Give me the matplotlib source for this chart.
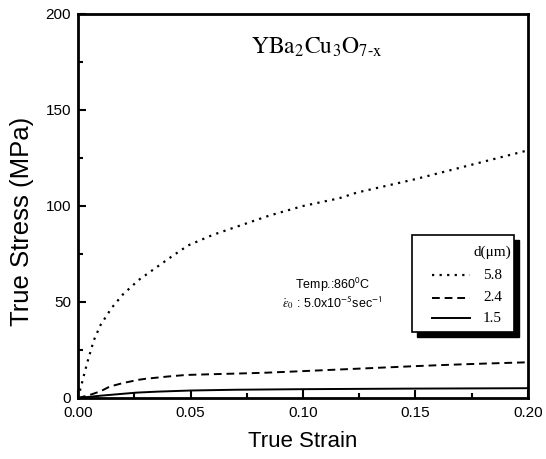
import numpy as np
import matplotlib
matplotlib.use("Agg")
import matplotlib.pyplot as plt
from matplotlib.patches import Rectangle
from matplotlib.ticker import MultipleLocator

# -----------------------------
# Datos
# -----------------------------
grain_sizes = ["5.8", "2.4", "1.5"]

strain_58 = [0.0, 0.004, 0.007, 0.010, 0.015, 0.020, 0.027, 0.036, 0.042, 0.049, 0.060,
             0.070, 0.085, 0.100, 0.116, 0.124, 0.150, 0.175, 0.200]
stress_58 = [0.0, 18.0, 30.0, 38.0, 47.0, 54.0, 61.5, 69.0, 74.0, 79.5, 85.0,
             89.0, 95.0, 100.0, 104.0, 107.0, 114.0, 121.5, 129.0]

strain_24 = [0.0, 0.005, 0.010, 0.014, 0.020, 0.027, 0.030, 0.040, 0.048, 0.060,
             0.076, 0.084, 0.100, 0.125, 0.150, 0.165, 0.180, 0.200]
stress_24 = [0.0, 1.5, 3.5, 5.9, 7.8, 9.5, 10.0, 11.2, 12.0, 12.4,
             12.9, 13.2, 14.0, 15.3, 16.6, 17.3, 17.9, 18.6]

strain_15 = [0.0, 0.005, 0.010, 0.018, 0.026, 0.035, 0.050, 0.070, 0.100, 0.150, 0.200]
stress_15 = [0.0, 0.6, 1.2, 2.0, 2.8, 3.3, 3.9, 4.3, 4.6, 4.9, 5.1]

series = [
    (strain_58, stress_58, (0, (1, 2.4)), 1.6),
    (strain_24, stress_24, (0, (4, 2.5)), 1.4),
    (strain_15, stress_15, "-", 1.4),
]

# -----------------------------
# Figura
# -----------------------------
plt.rcParams['font.family'] = ['Liberation Sans', 'DejaVu Sans']
plt.rcParams['mathtext.fontset'] = 'stix'

fig = plt.figure(figsize=(5.46, 4.59), dpi=100)
ax = fig.add_axes([0.1429, 0.1329, 0.967 - 0.1429, 0.9695 - 0.1329])

for x, y, ls, lw in series:
    ax.plot(x, y, color='black', linestyle=ls, linewidth=lw)

ax.set_xlim(0, 0.20)
ax.set_ylim(0, 200)
ax.xaxis.set_major_locator(MultipleLocator(0.05))
ax.xaxis.set_minor_locator(MultipleLocator(0.025))
ax.yaxis.set_major_locator(MultipleLocator(50))
ax.yaxis.set_minor_locator(MultipleLocator(25))
ax.set_xticklabels([f"{v:.2f}" for v in ax.get_xticks()])
ax.tick_params(which='both', direction='in', width=1.5, labelsize=11)
ax.tick_params(which='major', length=6)
ax.tick_params(which='minor', length=3.5)
ax.tick_params(axis='x', pad=6)
ax.tick_params(axis='y', pad=5)
for s in ax.spines.values():
    s.set_linewidth(2.0)

ax.set_xlabel("True Strain", fontsize=16, labelpad=8)
ax.set_ylabel("True Stress (MPa)", fontsize=18.5)
ax.yaxis.set_label_coords(-0.098, 0.46)

# Compuesto
ax.text(0.53, 0.912, r'$\mathrm{YBa_{2}Cu_{3}O_{7\text{-}x}}$', transform=ax.transAxes,
        fontsize=17, ha='center', va='center')

# Condiciones
ax.text(0.565, 0.294, r'Temp.:860$^{\mathsf{0}}$C', transform=ax.transAxes,
        fontsize=9, ha='center', va='center')
ax.text(0.565, 0.248, r'$\dot{\varepsilon}_0$ : 5.0x10$^{\mathsf{-5}}$sec$^{\mathsf{-1}}$',
        transform=ax.transAxes, fontsize=9, ha='center', va='center')

# Leyenda dibujada a mano (caja con sombra)
bx0, by0, bw, bh = 0.743, 0.172, 0.226, 0.252
ax.add_patch(Rectangle((bx0 + 0.010, by0 - 0.012), bw, bh, transform=ax.transAxes,
                       facecolor='black', edgecolor='black', zorder=5))
ax.add_patch(Rectangle((bx0, by0), bw, bh, transform=ax.transAxes,
                       facecolor='white', edgecolor='black', linewidth=1.2, zorder=6))
ax.text(bx0 + bw - 0.006, by0 + bh - 0.045, 'd(μm)', transform=ax.transAxes,
        fontsize=11, family='Liberation Serif', ha='right', va='center', zorder=7)
row_y = [0.320, 0.261, 0.208]
for (x, y, ls, lw), lab, ry in zip(series, grain_sizes, row_y):
    ax.plot([0.786, 0.872], [ry, ry], transform=ax.transAxes, color='black',
            linestyle=ls, linewidth=lw, zorder=7)
    ax.text(0.900, ry, lab, transform=ax.transAxes, fontsize=11,
            family='Liberation Serif', ha='left', va='center', zorder=7)

fig.savefig("out.png", dpi=100)
